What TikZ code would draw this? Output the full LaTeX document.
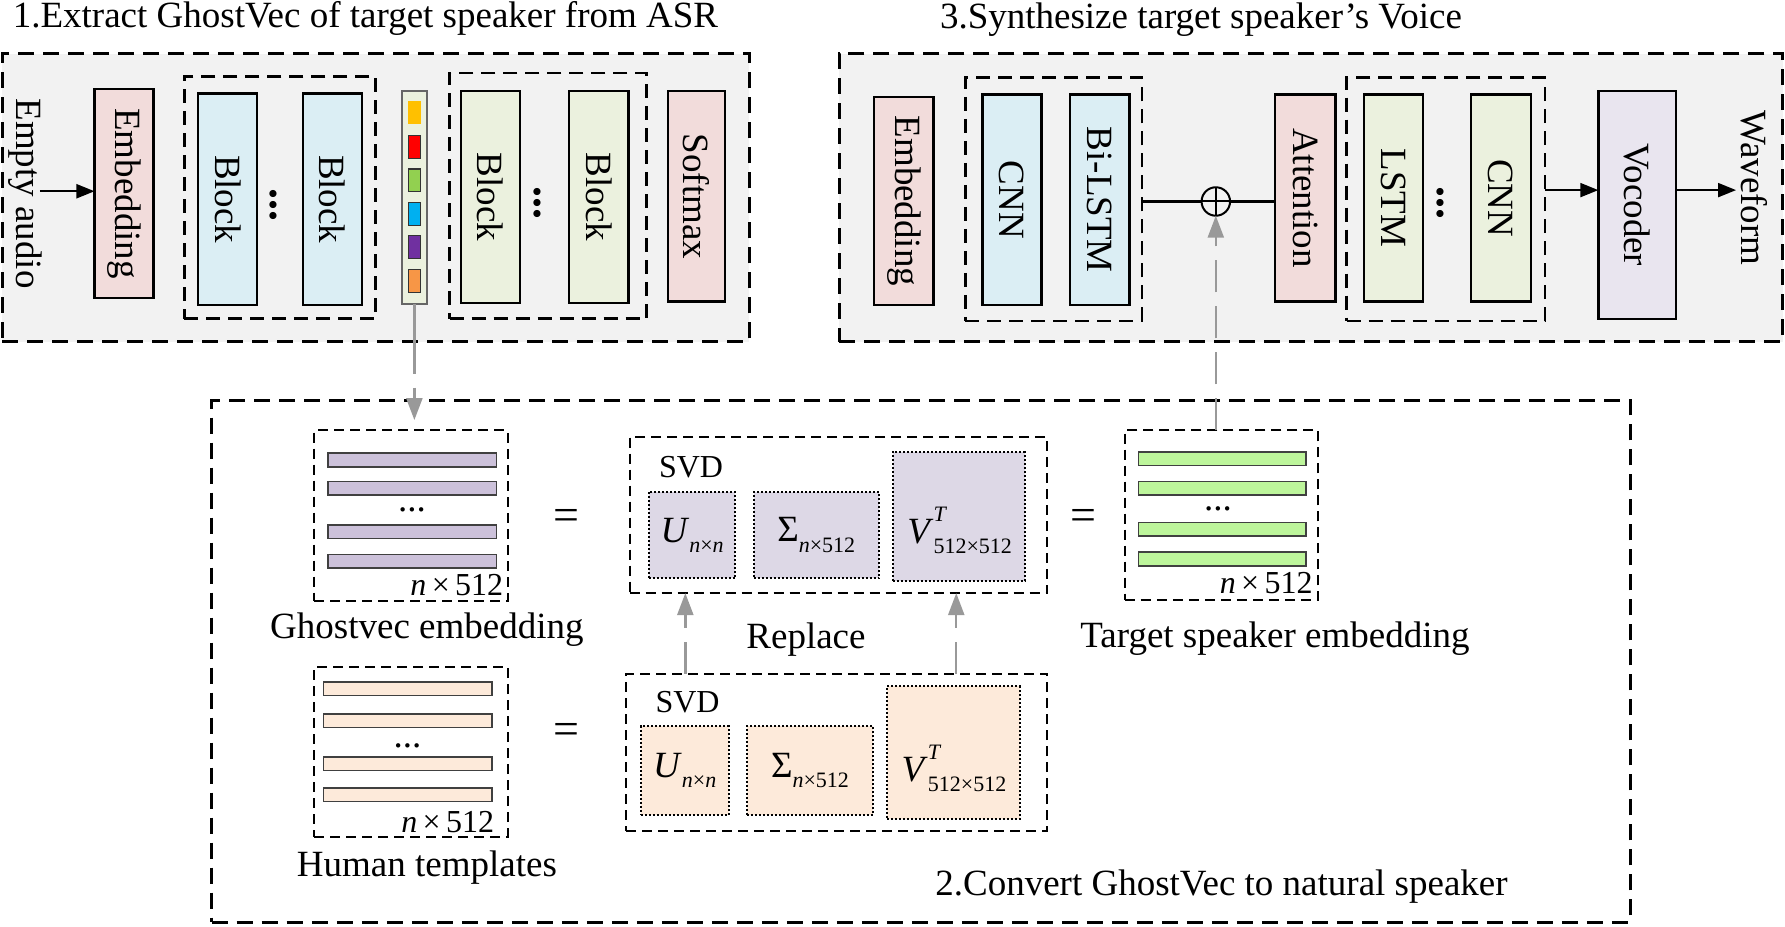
\documentclass[tikz,border=0pt]{standalone}
\usepackage{fontspec}
\setmainfont{Liberation Serif}
\usetikzlibrary{arrows.meta,calc}
\definecolor{panelgray}{HTML}{F2F2F2}
\definecolor{pinkf}{HTML}{F2DCDB}
\definecolor{bluef}{HTML}{DBEEF4}
\definecolor{greenf}{HTML}{EBF1DE}
\definecolor{lavf}{HTML}{E9E5EF}
\definecolor{purplebar}{HTML}{CCC1DA}
\definecolor{svdpurple}{HTML}{DDD8E6}
\definecolor{peach}{HTML}{FDEADA}
\definecolor{greenbar}{HTML}{BDF59B}
\definecolor{arrowgray}{HTML}{999999}
\definecolor{sqyellow}{HTML}{FFC000}
\definecolor{sqred}{HTML}{FF0000}
\definecolor{sqgreen}{HTML}{92D050}
\definecolor{sqblue}{HTML}{00B0F0}
\definecolor{sqpurple}{HTML}{7030A0}
\definecolor{sqorange}{HTML}{F79646}
\newcommand{\bx}[7]{\node[#2, minimum width={(#5-(#3))*0.02cm}, minimum height={(#6-(#4))*0.02cm}] (#1) at ({(#3+#5)/2},{(#4+#6)/2}) {#7};}
\newcommand{\smallsub}{\fontsize{11}{11}\selectfont}
\newcommand{\Ulab}{\textit{U}\raisebox{-0.6ex}{\smallsub\textit{n}×\textit{n}}}
\newcommand{\Slab}{Σ\raisebox{-0.6ex}{\smallsub\textit{n}×512}}
\newcommand{\Vlab}{\textit{V}\rlap{\raisebox{1.25ex}{\smallsub\textit{T}}}\raisebox{-0.6ex}{\smallsub 512×512}}
\newcommand{\rot}[1]{\rotatebox{-90}{#1}}
\begin{document}
\begin{tikzpicture}[x=0.02cm,y=-0.02cm,
  every node/.style={font=\fontsize{18.5}{20}\selectfont, inner sep=0pt, outer sep=0pt},
  panel/.style={draw, line width=1.5pt, dash pattern=on 8pt off 4.5pt, fill=panelgray},
  pnltwo/.style={draw, line width=1.5pt, dash pattern=on 8pt off 4.5pt},
  grp/.style={draw, line width=1.3pt, dash pattern=on 7pt off 4pt},
  blk/.style={draw, line width=1.2pt},
  sbox/.style={draw, line width=1pt, dash pattern=on 5pt off 3pt},
  mat/.style={draw, line width=1pt, dash pattern=on 1pt off 1pt},
  bar/.style={draw=black!75, line width=0.8pt},
  sq/.style={draw=black!80, line width=0.6pt},
  small/.style={font=\fontsize{16}{16}\selectfont},
  eqs/.style={font=\fontsize{23}{23}\selectfont},
  vdots/.style={font=\fontsize{22}{22}\selectfont\bfseries},
  garrow/.style={draw=arrowgray, line width=1.2pt, dash pattern=on 16pt off 7pt, -{Triangle[length=11pt,width=8pt]}},
  gline/.style={draw=arrowgray, line width=1.2pt},
  barrow/.style={line width=1pt, -{Triangle[length=9pt,width=7pt]}}]
\useasboundingbox (0,0) rectangle (1568,814);

% ---------- Panel 1 ----------
\node (t1) at (321,16) {1.Extract GhostVec of target speaker from ASR};
\bx{p1}{panel}{2}{47}{658}{300}{}
\node (ea) at (22,170) {\rot{Empty audio}};
\bx{emb1}{blk,fill=pinkf}{83}{78}{135}{262}{\rot{Embedding}}
\bx{g1}{grp}{162}{67}{330}{280}{}
\bx{b1}{blk,fill=bluef}{174}{82}{226}{268}{\rot{Block}}
\node[vdots] (d1) at (240,180) {\rot{...}};
\bx{b2}{blk,fill=bluef}{266}{82}{318}{268}{\rot{Block}}
\bx{vec}{draw=black!60, line width=0.8pt, fill=greenf}{353}{80}{375}{267}{}
\bx{q1}{fill=sqyellow}{358.5}{89}{369.5}{109}{}
\bx{q2}{sq,fill=sqred}{358.5}{119}{369.5}{139}{}
\bx{q3}{sq,fill=sqgreen}{358.5}{148.5}{369.5}{168.5}{}
\bx{q4}{sq,fill=sqblue}{358.5}{178}{369.5}{198}{}
\bx{q5}{sq,fill=sqpurple}{358.5}{207}{369.5}{227}{}
\bx{q6}{sq,fill=sqorange}{358.5}{237}{369.5}{257}{}
\bx{g2}{grp}{395}{64}{568}{280}{}
\bx{b3}{blk,fill=greenf}{405}{80}{457}{266}{\rot{Block}}
\node[vdots] (d2) at (472,178) {\rot{...}};
\bx{b4}{blk,fill=greenf}{500}{80}{552}{266}{\rot{Block}}
\bx{sm}{blk,fill=pinkf}{587}{80}{637}{265}{\rot{Softmax}}
\coordinate (eastart) at (35,168);
\draw[barrow] (eastart) -- (eastart -| emb1.west);

% ---------- Panel 3 ----------
\node (t3) at (1055,17) {3.Synthesize target speaker’s Voice};
\bx{p3}{panel}{737}{47}{1566}{300}{}
\bx{emb3}{blk,fill=pinkf}{768}{85}{820}{268}{\rot{Embedding}}
\bx{g3}{grp}{848}{68}{1003}{282}{}
\bx{cnn1}{blk,fill=bluef}{863}{83}{915}{268}{\rot{CNN}}
\bx{bil}{blk,fill=bluef}{940}{83}{992}{268}{\rot{Bi-LSTM}}
\node[circle, draw, line width=1pt, minimum size={25*0.02cm}] (plus) at (1068,177) {};
\draw[line width=1pt] (plus.north) -- (plus.south) (plus.west) -- (plus.east);
\bx{att}{blk,fill=pinkf}{1120}{83}{1173}{265}{\rot{Attention}}
\bx{g4}{grp}{1183}{68}{1357}{282}{}
\bx{lstm}{blk,fill=greenf}{1198}{83}{1250}{265}{\rot{LSTM}}
\node[vdots] (d3) at (1265,178) {\rot{...}};
\bx{cnn2}{blk,fill=greenf}{1292}{83}{1345}{265}{\rot{CNN}}
\bx{voc}{blk,fill=lavf}{1404}{80}{1472}{280}{\rot{Vocoder}}
\node (wave) at (1541,165) {\rot{Waveform}};
\draw[line width=1.3pt] (g3.east |- plus) -- (plus.west);
\draw[line width=1.3pt] (plus.east) -- (plus -| att.west);
\coordinate (ya) at (0,167);
\coordinate (wend) at (1525,167);
\draw[barrow] (g4.east |- ya) -- (voc.west |- ya);
\draw[barrow] (voc.east |- ya) -- (wend);

% ---------- Panel 2 ----------
\bx{p2}{pnltwo}{186}{352}{1432}{810}{}
\node (t2) at (1073,779) {2.Convert GhostVec to natural speaker};
% Ghostvec embedding
\bx{gb}{sbox}{276}{378}{446}{528}{}
\bx{gb1}{bar,fill=purplebar}{288}{398}{436}{410}{}
\bx{gb2}{bar,fill=purplebar}{288}{423}{436}{435}{}
\node (gbd) at (362,448) {...};
\bx{gb3}{bar,fill=purplebar}{288}{461}{436}{473}{}
\bx{gb4}{bar,fill=purplebar}{288}{487}{436}{499}{}
\node[small, anchor=base east] (gbn) at (442,523) {\textit{n}\,×\,512};
\node (gbl) at (375,553) {Ghostvec embedding};
\node[eqs] (eq1) at (498,457) {=};
% upper SVD
\bx{svd1}{sbox}{553}{384}{920}{521}{}
\node[small] (svdt1) at (607,410) {SVD};
\bx{u1}{mat,fill=svdpurple}{570}{432}{646}{508}{\Ulab}
\bx{s1}{mat,fill=svdpurple}{662}{432}{772}{508}{\Slab}
\bx{v1}{mat,fill=svdpurple}{784}{397}{900}{510}{}
\node (v1l) at (843,466) {\Vlab};
\node[eqs] (eq2) at (952,457) {=};
% target speaker embedding
\bx{tb}{sbox}{988}{378}{1158}{527}{}
\bx{tb1}{bar,fill=greenbar}{1000}{397}{1147}{409}{}
\bx{tb2}{bar,fill=greenbar}{1000}{423}{1147}{435}{}
\node (tbd) at (1070,447) {...};
\bx{tb3}{bar,fill=greenbar}{1000}{459}{1147}{471}{}
\bx{tb4}{bar,fill=greenbar}{1000}{485}{1147}{497}{}
\node[small, anchor=base east] (tbn) at (1153,521) {\textit{n}\,×\,512};
\node (tbl) at (1120,561) {Target speaker embedding};
\node (rep) at (708,562) {Replace};
% human templates
\bx{hb}{sbox}{276}{586}{446}{735}{}
\bx{hb1}{bar,fill=peach}{284}{599}{432}{611}{}
\bx{hb2}{bar,fill=peach}{284}{627}{432}{639}{}
\node (hbd) at (358,655) {...};
\bx{hb3}{bar,fill=peach}{284}{665}{432}{677}{}
\bx{hb4}{bar,fill=peach}{284}{692}{432}{704}{}
\node[small, anchor=base east] (hbn) at (434,731) {\textit{n}\,×\,512};
\node (hbl) at (375,762) {Human templates};
\node[eqs] (eq3) at (498,645) {=};
% lower SVD
\bx{svd2}{sbox}{550}{592}{920}{730}{}
\node[small] (svdt2) at (604,617) {SVD};
\bx{u2}{mat,fill=peach}{563}{638}{640}{716}{\Ulab}
\bx{s2}{mat,fill=peach}{656}{638}{767}{716}{\Slab}
\bx{v2}{mat,fill=peach}{779}{603}{896}{719}{}
\node (v2l) at (838,675) {\Vlab};

% ---------- gray arrows ----------
\coordinate (ra) at (602,0);
\coordinate (rb) at (840,0);
\draw[garrow] (ra |- svd2.north) -- (ra |- svd1.south);
\draw[garrow] (rb |- svd2.north) -- (rb |- svd1.south);
\draw[gline] (vec.south) -- (vec.south |- p1.south);
\draw[garrow] (vec.south |- p1.south) -- ($(vec.south |- gb.north)+(0,-9)$);
\draw[garrow] (plus.south |- tb.north) -- (plus.south);
\end{tikzpicture}
\end{document}
